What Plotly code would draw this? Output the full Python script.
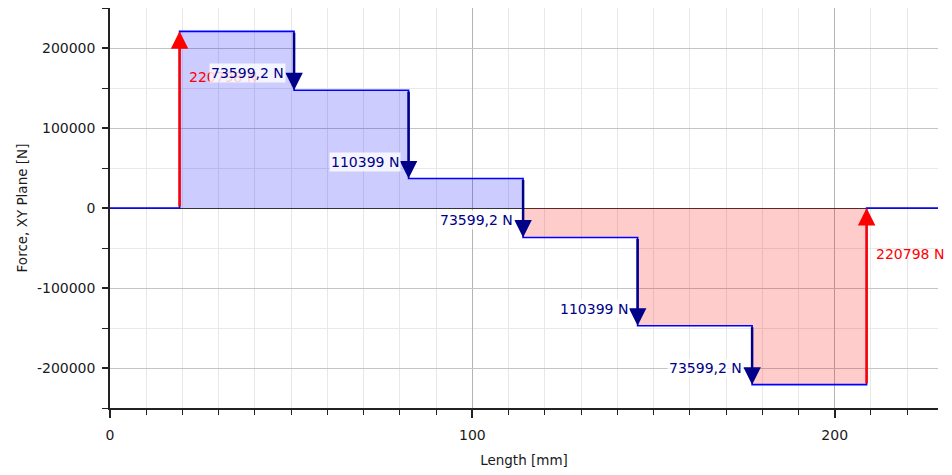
import plotly.graph_objects as go

# ---- data ----
x_pos = [0, 19.2, 50.8, 82.4, 114.0, 145.6, 177.2, 208.8, 228.5]   # mm: start, load points, end
shear = [0, 220798, 147198.8, 36799.8, -36799.4, -147198.4, -220797.6, 0, 0]  # N, step values from each x
load_x = [50.8, 82.4, 114.0, 145.6, 177.2]
load_text = ["73599,2 N", "110399 N", "73599,2 N", "110399 N", "73599,2 N"]
react_x = [19.2, 208.8]
react_text = ["220798 N", "220798 N"]
y_tickvals = [-200000, -100000, 0, 100000, 200000]
y_ticktext = ["-200000", "-100000", "0", "100000", "200000"]
x_tickvals = [0, 100, 200]
x_ticktext = ["0", "100", "200"]

FONT = "DejaVu Sans"
NAVY = "#000088"
RED = "#ff0000"

pos_vals = [max(v, 0) for v in shear]
neg_vals = [min(v, 0) for v in shear]

fig = go.Figure()
fig.add_trace(go.Scatter(x=x_pos, y=pos_vals, mode="lines", line=dict(width=0, shape="hv"),
                         fill="tozeroy", fillcolor="rgba(0,0,255,0.2)", hoverinfo="skip", showlegend=False))
fig.add_trace(go.Scatter(x=x_pos, y=neg_vals, mode="lines", line=dict(width=0, shape="hv"),
                         fill="tozeroy", fillcolor="rgba(255,0,0,0.2)", hoverinfo="skip", showlegend=False))
fig.add_trace(go.Scatter(x=x_pos, y=shear, mode="lines", line=dict(color="#0000ff", width=1.6, shape="hv"),
                         showlegend=False))

idx = {x: i for i, x in enumerate(x_pos)}
annotations = []
# reaction arrows (upward, red)
for xr, t in zip(react_x, react_text):
    i = idx[xr]
    start, end = shear[i - 1], shear[i]
    annotations.append(dict(x=xr, y=end, ax=xr, ay=start, axref="x", ayref="y", xref="x", yref="y",
                            text="", showarrow=True, arrowhead=2, arrowsize=1.4, arrowwidth=2.5,
                            arrowcolor=RED))
    annotations.append(dict(x=xr, y=end, xref="x", yref="y", text=t, showarrow=False,
                            xanchor="left", yanchor="middle", xshift=7, yshift=-46,
                            font=dict(family=FONT, size=14, color=RED)))
# load arrows (downward, navy)
for xl, t in zip(load_x, load_text):
    i = idx[xl]
    start, end = shear[i - 1], shear[i]
    annotations.append(dict(x=xl, y=end, ax=xl, ay=start, axref="x", ayref="y", xref="x", yref="y",
                            text="", showarrow=True, arrowhead=2, arrowsize=1.4, arrowwidth=2.5,
                            arrowcolor=NAVY))
    annotations.append(dict(x=xl, y=end, xref="x", yref="y", text=t, showarrow=False,
                            xanchor="right", yanchor="middle", xshift=-8, yshift=17,
                            bgcolor="rgba(255,255,255,0.8)", borderpad=1,
                            font=dict(family=FONT, size=14, color=NAVY)))

fig.update_layout(
    width=944, height=467,
    margin=dict(l=102, r=14, t=0, b=67),
    paper_bgcolor="white", plot_bgcolor="white",
    font=dict(family=FONT, size=14, color="#1a1a1a"),
    annotations=annotations,
    xaxis=dict(range=[0, 228.5], tickvals=x_tickvals, ticktext=x_ticktext, automargin=False,
               ticks="outside", ticklen=8, tickwidth=1.5, tickcolor="#222", ticklabelstandoff=5,
               showline=True, linecolor="#222", linewidth=1.5,
               showgrid=True, gridcolor="#b4b4b4", gridwidth=1, zeroline=False,
               minor=dict(dtick=10, tick0=0, ticks="outside", ticklen=5, tickwidth=1.2, tickcolor="#222",
                          showgrid=True, gridcolor="#e8e8e8", gridwidth=1),
               title=dict(text="Length [mm]", font=dict(size=13.5), standoff=14),
               tickfont=dict(size=14)),
    yaxis=dict(range=[-250000, 250000], tickvals=y_tickvals, ticktext=y_ticktext, automargin=False,
               ticks="outside", ticklen=6, tickwidth=1.5, tickcolor="#222", ticklabelstandoff=4,
               showline=True, linecolor="#222", linewidth=1.5,
               showgrid=True, gridcolor="#c4c4c4", gridwidth=1,
               zeroline=True, zerolinecolor="#333333", zerolinewidth=1.2,
               minor=dict(dtick=50000, tick0=0, ticks="outside", ticklen=6, tickwidth=1.2, tickcolor="#222",
                          showgrid=True, gridcolor="#e8e8e8", gridwidth=1),
               title=dict(text="Force, XY Plane [N]", font=dict(size=13.5), standoff=6),
               tickfont=dict(size=14)),
)

fig.write_html("out.html")
